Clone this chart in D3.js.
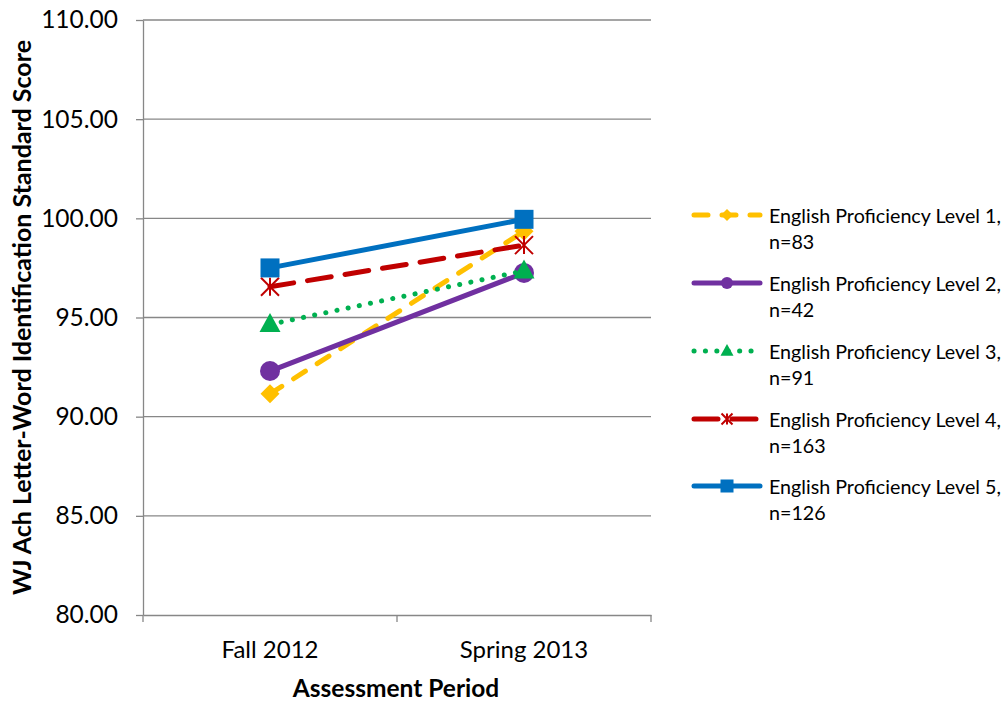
<!DOCTYPE html>
<html><head><meta charset="utf-8">
<script src="https://cdn.jsdelivr.net/npm/d3@7/dist/d3.min.js"></script>
<style>body{margin:0;background:#fff}svg{display:block}</style>
</head><body>
<svg id="c" width="1005" height="704"></svg>
<script>
const periods = ["Fall 2012", "Spring 2013"];
const yTicks = [80, 85, 90, 95, 100, 105, 110];
const seriesNames = ["English Proficiency Level 1,", "English Proficiency Level 2,", "English Proficiency Level 3,", "English Proficiency Level 4,", "English Proficiency Level 5,"];
const seriesN = ["n=83", "n=42", "n=91", "n=163", "n=126"];
const level1 = [91.15, 99.35];
const level2 = [92.3, 97.25];
const level3 = [94.65, 97.35];
const level4 = [96.55, 98.65];
const level5 = [97.5, 99.95];
const seriesValues = [level1, level2, level3, level4, level5];
const colors = ["#FFC000", "#7030A0", "#00B050", "#C00000", "#0070C0"];
const dashes = ["14,14", null, "0.1,11.3", "24,14", null];
const markers = ["diamond", "circle", "triangle", "asterisk", "square"];

const font = "Lato, 'Open Sans', sans-serif";
const svg = d3.select("#c");
const L = 143, R = 651, T = 20, B = 615;
const x = d3.scaleBand().domain(periods).range([L, R]);
const y = d3.scaleLinear().domain([80, 110]).range([B, T]);
const gray = "#878787";

// gridlines
svg.append("g").selectAll("line").data(yTicks.filter(d => d > 80)).join("line")
  .attr("x1", L).attr("x2", R).attr("y1", d => y(d)).attr("y2", d => y(d))
  .attr("stroke", gray).attr("stroke-width", 1.3);

// y axis
const yAxis = svg.append("g").attr("transform", `translate(${L},0)`)
  .call(d3.axisLeft(y).tickValues(yTicks).tickFormat(d3.format(".2f")).tickSizeInner(7).tickSizeOuter(0).tickPadding(18));
yAxis.select(".domain").attr("stroke", gray).attr("stroke-width", 1.3);
yAxis.selectAll(".tick line").attr("stroke", gray).attr("stroke-width", 1.3);
yAxis.selectAll(".tick text").attr("font-family", font).attr("font-size", 24.5).attr("fill", "#000");

// x axis
const xAxis = svg.append("g").attr("transform", `translate(0,${B})`)
  .call(d3.axisBottom(x).tickSize(0).tickPadding(26));
xAxis.select(".domain").attr("stroke", gray).attr("stroke-width", 1.3);
xAxis.selectAll(".tick text").attr("font-family", font).attr("font-size", 24).attr("fill", "#000");
const bounds = [L].concat(periods.map(p => x(p) + x.bandwidth()));
xAxis.selectAll(".bnd").data(bounds).join("line").attr("class", "bnd")
  .attr("x1", d => d).attr("x2", d => d).attr("y1", 0).attr("y2", 7)
  .attr("stroke", gray).attr("stroke-width", 1.3);

// axis titles
svg.append("text").attr("x", (L + R) / 2 - 1).attr("y", 697).attr("text-anchor", "middle")
  .attr("font-family", font).attr("font-weight", "bold").attr("font-size", 24.5).text("Assessment Period");
svg.append("text").attr("transform", `translate(31,${(T + B) / 2}) rotate(-90)`).attr("text-anchor", "middle")
  .attr("font-family", font).attr("font-weight", "bold").attr("font-size", 25)
  .text("WJ Ach Letter-Word Identification Standard Score");

function drawMarker(g, type, cx, cy, s, color) {
  if (type === "circle") g.append("circle").attr("cx", cx).attr("cy", cy).attr("r", s / 2).attr("fill", color);
  else if (type === "square") g.append("rect").attr("x", cx - s / 2).attr("y", cy - s / 2).attr("width", s).attr("height", s).attr("fill", color);
  else if (type === "diamond") g.append("path").attr("d", `M${cx},${cy - s / 2}L${cx + s / 2},${cy}L${cx},${cy + s / 2}L${cx - s / 2},${cy}Z`).attr("fill", color);
  else if (type === "triangle") { const h = s * 0.9; g.append("path").attr("d", `M${cx},${cy - h * 0.6}L${cx + s / 2},${cy + h * 0.4}L${cx - s / 2},${cy + h * 0.4}Z`).attr("fill", color); }
  else if (type === "asterisk") {
    const a = s / 2;
    g.append("path").attr("d", `M${cx - a},${cy - a}L${cx + a},${cy + a}M${cx - a},${cy + a}L${cx + a},${cy - a}M${cx},${cy - a}L${cx},${cy + a}`)
      .attr("stroke", color).attr("stroke-width", 2).attr("fill", "none");
  }
}

const line = d3.line().x((d, i) => x(periods[i]) + x.bandwidth() / 2).y(d => y(d));
const sizes = { circle: 20, square: 19, diamond: 19, triangle: 21, asterisk: 18 };
seriesValues.forEach((vals, k) => {
  const g = svg.append("g");
  g.append("path").attr("d", line(vals)).attr("fill", "none").attr("stroke", colors[k]).attr("stroke-width", 5)
    .attr("stroke-linecap", "round").attr("stroke-dasharray", dashes[k]);
  vals.forEach((v, i) => drawMarker(g, markers[k], x(periods[i]) + x.bandwidth() / 2, y(v), sizes[markers[k]], colors[k]));
});

// legend
const legY = [215, 283, 351, 419, 486];
const lsizes = { circle: 12, square: 13, diamond: 12, triangle: 13, asterisk: 11 };
seriesNames.forEach((name, k) => {
  const g = svg.append("g");
  const ly = legY[k];
  g.append("line").attr("x1", 694).attr("x2", 760).attr("y1", ly).attr("y2", ly)
    .attr("stroke", colors[k]).attr("stroke-width", 5).attr("stroke-linecap", "round").attr("stroke-dasharray", dashes[k]);
  drawMarker(g, markers[k], 727, ly, lsizes[markers[k]], colors[k]);
  const t = g.append("text").attr("x", 769).attr("y", ly + 8).attr("font-family", font).attr("font-size", 19.7).attr("fill", "#000");
  t.append("tspan").attr("x", 769).text(name);
  t.append("tspan").attr("x", 769).attr("dy", 26).text(seriesN[k]);
});
</script>
</body></html>
